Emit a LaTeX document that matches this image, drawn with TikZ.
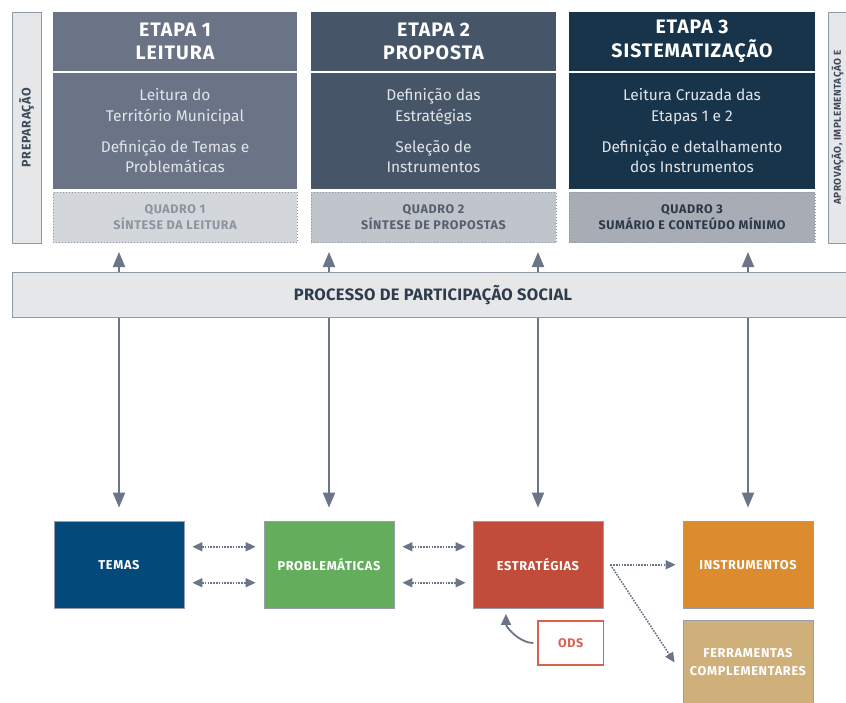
\documentclass[tikz,border=0pt]{standalone}
\usepackage{fontspec}
\setmainfont{Fira Sans}
\newfontfamily\capfont[LetterSpace=5]{Fira Sans}
\newfontfamily\barfont[LetterSpace=2]{Fira Sans}
\usetikzlibrary{arrows.meta}
\definecolor{etA}{HTML}{6A7486}
\definecolor{etB}{HTML}{465668}
\definecolor{etC}{HTML}{17344A}
\definecolor{bodytxt}{HTML}{E1E4E9}
\definecolor{qA}{HTML}{D3D6DB}
\definecolor{qAt}{HTML}{8C949F}
\definecolor{qB}{HTML}{C0C4CB}
\definecolor{qBt}{HTML}{56606E}
\definecolor{qC}{HTML}{A8ACB4}
\definecolor{qCt}{HTML}{2B3848}
\definecolor{qborder}{HTML}{8E96A1}
\definecolor{sidefill}{HTML}{E6E7E9}
\definecolor{sideborder}{HTML}{8F99A4}
\definecolor{sidetxt}{HTML}{3F4B5A}
\definecolor{bartxt}{HTML}{2F3C4B}
\definecolor{arr}{HTML}{6B7587}
\definecolor{temas}{HTML}{03497A}
\definecolor{probl}{HTML}{63AD5D}
\definecolor{estr}{HTML}{C04C39}
\definecolor{instr}{HTML}{DC8B2F}
\definecolor{ferr}{HTML}{CFB07B}
\definecolor{ods}{HTML}{D8614D}
\begin{document}
\begin{tikzpicture}[x=1pt,y=-1pt,
  etapahead/.style={minimum width=#1, minimum height=58.5pt, inner sep=0pt, text=white,
    font=\capfont\bfseries\fontsize{19.5}{23.5}\selectfont, align=center},
  etapabody/.style={minimum width=#1, minimum height=116.5pt, inner sep=0pt, text=bodytxt,
    font=\fontsize{15.5}{20.5}\selectfont, align=center},
  quadro/.style={minimum width=#1, minimum height=50.5pt, inner sep=0pt, draw=qborder,
    dotted, line width=1pt, font=\capfont\bfseries\fontsize{12.5}{16.5}\selectfont, align=center},
  sidebox/.style={minimum width=29pt, minimum height=231pt, inner sep=0pt, fill=sidefill,
    draw=sideborder, line width=1pt},
  sidetext/.style={rotate=90, text=sidetxt, font=\capfont\bfseries\fontsize{#1}{12.5}\selectfont, align=center},
  bottombox/.style={minimum width=130pt, minimum height=87.5pt, inner sep=0pt, draw=arr!70,
    line width=0.8pt, text=white, font=\capfont\bfseries\fontsize{12.8}{18}\selectfont, align=center},
  solidarrow/.style={draw=arr, line width=2pt, -{Triangle[length=15pt,width=12pt]}},
  dotarrow/.style={draw=arr, line width=1.6pt, dash pattern=on 1.6pt off 1.2pt,
    -{Triangle[length=10pt,width=9pt]}},
  dotboth/.style={draw=arr, line width=1.6pt, dash pattern=on 1.6pt off 1.2pt,
    {Triangle[length=10pt,width=9pt]}-{Triangle[length=10pt,width=9pt]}}
]
\clip (0,0) rectangle (846,702);
\fill[white] (0,0) rectangle (846,702);

% side boxes
\node[sidebox] (prep) at (26.5,127.5) {};
\node[sidetext=12.5] (preptxt) at (prep.center) {PREPARAÇÃO};
\node[sidebox] (aprov) at (842.5,127.5) {};
\node[sidetext=10] (aprovtxt) at (aprov.center) {APROVAÇÃO, IMPLEMENTAÇÃO E\\MONITORAMENTO};

% etapa 1
\node[etapahead=244pt, fill=etA] (h1) at (175,41.25) {ETAPA 1\\LEITURA};
\node[etapabody=244pt, fill=etA] (b1) at (175,130.75) {Leitura do\\Território Municipal\\[10.5pt]Definição de Temas e\\Problemáticas};
\node[quadro=244pt, fill=qA, text=qAt] (q1) at (175,217.25) {QUADRO 1\\SÍNTESE DA LEITURA};

% etapa 2
\node[etapahead=245pt, fill=etB] (h2) at (433.5,41.25) {ETAPA 2\\PROPOSTA};
\node[etapabody=245pt, fill=etB] (b2) at (433.5,130.75) {Definição das\\Estratégias\\[10.5pt]Seleção de\\Instrumentos};
\node[quadro=245pt, fill=qB, text=qBt] (q2) at (433.5,217.25) {QUADRO 2\\SÍNTESE DE PROPOSTAS};

% etapa 3
\node[etapahead=246pt, fill=etC] (h3) at (692,41.25) {ETAPA 3\\SISTEMATIZAÇÃO};
\node[etapabody=246pt, fill=etC] (b3) at (692,130.75) {Leitura Cruzada das\\Etapas 1 e 2\\[10.5pt]Definição e detalhamento\\dos Instrumentos};
\node[quadro=246pt, fill=qC, text=qCt] (q3) at (692,217.25) {QUADRO 3\\SUMÁRIO E CONTEÚDO MÍNIMO};

% participation bar
\node[minimum width=842pt, minimum height=44.5pt, inner sep=0pt, fill=sidefill, draw=sideborder,
  line width=1pt, text=bartxt, font=\barfont\bfseries\fontsize{16.5}{19}\selectfont] (bar) at (433,294.75)
  {PROCESSO DE PARTICIPAÇÃO SOCIAL};

% bottom boxes
\node[bottombox, fill=temas] (tm) at (119,564.75) {TEMAS};
\node[bottombox, fill=probl] (pb) at (329,564.75) {PROBLEMÁTICAS};
\node[bottombox, fill=estr] (es) at (538,564.75) {ESTRATÉGIAS};
\node[bottombox, fill=instr] (in) at (748,564.75) {INSTRUMENTOS};
\node[bottombox, fill=ferr, minimum height=85pt] (fe) at (748,662.5) {FERRAMENTAS\\COMPLEMENTARES};
\node[minimum width=65.5pt, minimum height=44pt, inner sep=0pt, fill=white, draw=ods, line width=1.3pt,
  text=ods, font=\capfont\bfseries\fontsize{12.5}{14}\selectfont] (od) at (570.75,643) {ODS};

% up arrows bar -> quadros
\draw[solidarrow, shorten >=9pt] (bar.north -| tm) -- (q1.south -| tm);
\draw[solidarrow, shorten >=9pt] (bar.north -| pb) -- (q2.south -| pb);
\draw[solidarrow, shorten >=9pt] (bar.north -| es) -- (q2.south -| es);
\draw[solidarrow, shorten >=9pt] (bar.north -| in) -- (q3.south -| in);

% down arrows bar -> boxes
\draw[solidarrow, shorten >=13pt] (bar.south -| tm) -- (tm.north);
\draw[solidarrow, shorten >=13pt] (bar.south -| pb) -- (pb.north);
\draw[solidarrow, shorten >=13pt] (bar.south -| es) -- (es.north);
\draw[solidarrow, shorten >=13pt] (bar.south -| in) -- (in.north);

% dotted two-way arrows
\draw[dotboth, shorten <=8pt, shorten >=8pt] ([yshift=18pt]tm.east) -- ([yshift=18pt]pb.west);
\draw[dotboth, shorten <=8pt, shorten >=8pt] ([yshift=-18pt]tm.east) -- ([yshift=-18pt]pb.west);
\draw[dotboth, shorten <=8pt, shorten >=7pt] ([yshift=18pt]pb.east) -- ([yshift=18pt]es.west);
\draw[dotboth, shorten <=8pt, shorten >=7pt] ([yshift=-18pt]pb.east) -- ([yshift=-18pt]es.west);

% estrategias -> instrumentos / ferramentas
\draw[dotarrow, shorten >=7pt] ([xshift=7pt]es.east) -- (in.west);
\draw[dotarrow] ([xshift=7pt]es.east) -- ([xshift=-8pt]fe.west);

% ODS -> estrategias
\draw[draw=arr, line width=1.8pt, -{Triangle[length=11pt,width=10pt]}, shorten <=4pt, shorten >=5pt]
  (od.west) to[out=180,in=-90] ([xshift=-32pt]es.south);
\end{tikzpicture}
\end{document}
